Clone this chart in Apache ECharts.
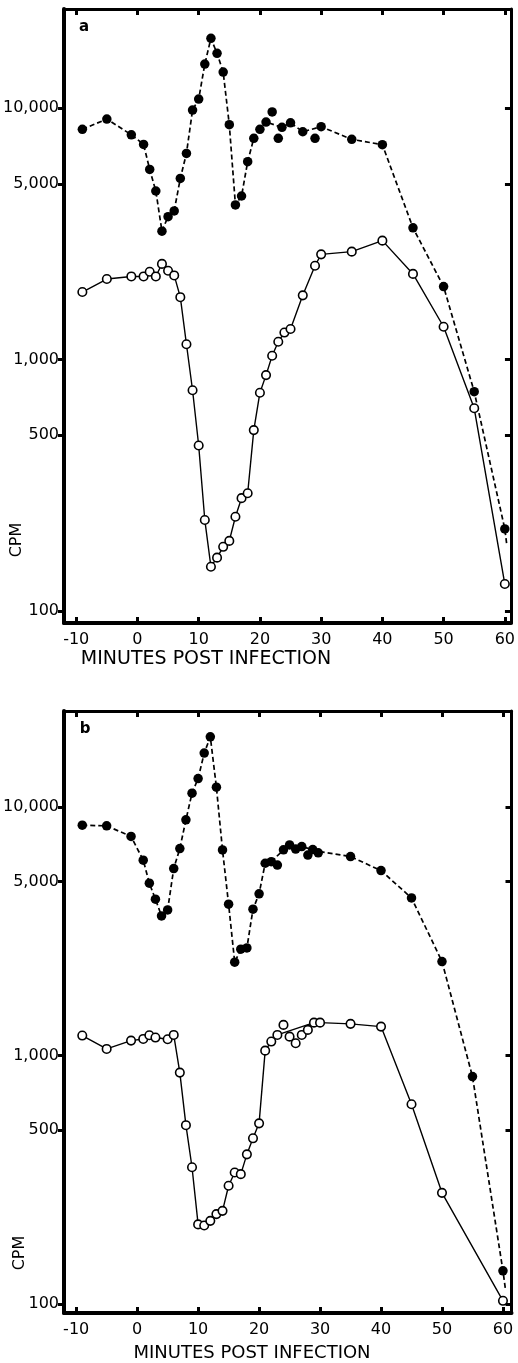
<!DOCTYPE html>
<html><head><meta charset="utf-8">
<script src="https://cdn.jsdelivr.net/npm/echarts@6/dist/echarts.min.js"></script>
<style>html,body{margin:0;padding:0;background:#fff}#c{width:518px;height:1363px}</style>
</head><body><div id="c"></div><script>
// ---------- DATA ----------
// Panel a, filled circles (dashed line)
const aFilledX = [-9,-5,-1,1,2,3,4,5,6,7,8,9,10,11,12,13,14,15,16,17,18,19,20,21,22,23,23.6,25,27,29,30,35,40,45,50,55,60];
const aFilledY = [8230,9040,7830,7170,5700,4680,3240,3700,3900,5250,6600,9820,10860,14960,18930,16500,13900,8590,4120,4470,6120,7580,8230,8800,9650,7580,8380,8740,8050,7580,8430,7510,7150,3340,1950,745,212];
const aFilledLineX = [-9,-5,-1,1,2,3,4,5,6,7,8,9,10,11,12,13,14,15,16,17,18,19,20,21,23.6,25,27,30,35,40,45,50,55,60,60.3];
const aFilledLineY = [8230,9040,7830,7170,5700,4680,3240,3700,3900,5250,6600,9820,10860,14960,18930,16500,13900,8590,4120,4470,6120,7580,8230,8800,8380,8740,8050,8430,7510,7150,3340,1950,745,212,185];
// Panel a, open circles (solid line)
const aOpenX = [-9,-5,-1,1,2,3,4,5,6,7,8,9,10,11,12,13,14,15,16,17,18,19,20,21,22,23,24,25,27,29,30,35,40,45,50,55,60];
const aOpenY = [1855,2090,2140,2140,2235,2140,2400,2255,2160,1770,1150,755,455,230,150,163,180,190,237,281,294,524,738,867,1035,1177,1280,1322,1800,2360,2620,2685,2970,2190,1350,640,128];
// Panel b, filled circles (dashed line)
const bFilledX = [-9,-5,-1,1,2,3,4,5,6,7,8,9,10,11,12,13,14,15,16,17,18,19,20,21,22,23,24,25,26,27,28,28.8,29.7,35,40,45,50,55,60];
const bFilledY = [8440,8385,7600,6100,4930,4250,3640,3850,5645,6795,8866,11350,13000,16450,19130,12000,6710,4058,2372,2675,2708,3875,4467,5930,6020,5830,6714,7030,6760,6920,6400,6730,6530,6310,5541,4300,2386,822,136];
const bFilledLineX = [-9,-5,-1,1,2,3,4,5,6,7,8,9,10,11,12,13,14,15,16,17,18,19,20,21,22,24,25,27,30,35,40,45,50,55,60,60.4];
const bFilledLineY = [8440,8385,7600,6100,4930,4250,3640,3850,5645,6795,8866,11350,13000,16450,19130,12000,6710,4058,2372,2675,2708,3875,4467,5930,6020,6714,7030,6920,6600,6310,5541,4300,2386,822,136,115];
// Panel b, open circles (solid line)
const bOpenX = [-9,-5,-1,1,2,3,5,6,7,8,9,10,11,12,13,14,15,16,17,18,19,20,21,22,23,24,25,26,27,28,29,30,35,40,45,50,60];
const bOpenY = [1202,1062,1147,1165,1205,1180,1162,1209,853,524,355,209,207,216,230,237,299,338,333,400,464,533,1045,1137,1209,1327,1190,1119,1209,1267,1355,1355,1340,1306,636,280,103];
const bOpenLineX = [-9,-5,-1,1,2,3,5,6,7,8,9,10,11,12,13,14,15,16,17,18,19,20,21,22,23,29,30,35,40,45,50,60];
const bOpenLineY = [1202,1062,1147,1165,1205,1180,1162,1209,853,524,355,209,207,216,230,237,299,338,333,400,464,533,1045,1137,1209,1355,1355,1340,1306,636,280,103];
// Axis ticks
const xTicks = [-10,0,10,20,30,40,50,60];
const yTicks = [100,500,1000,5000,10000];
const xTitle = 'MINUTES POST INFECTION';
const yTitle = 'CPM';
const panelLabels = ['a','b'];

// ---------- CHART ----------
const FONT = 'DejaVu Sans';
const L = Math.log10;
const pairs = (xs, ys) => xs.map((x, i) => [x, L(ys[i])]);
const yTickLog = yTicks.map(L);
const fmtY = v => Math.round(Math.pow(10, v)).toLocaleString('en-US');

const panels = [
  {left:63.66, top:9, width:450.5, height:614, xmin:-12, xmax:61, ymin:L(89.6), ymax:L(24770)},
  {left:63.8, top:711, width:447.7, height:602, xmin:-12, xmax:61.4, ymin:L(92), ymax:L(24300)}
];

const grids = [], xAxes = [], yAxes = [];
panels.forEach((p, g) => {
  grids.push({left:p.left, top:p.top, width:p.width, height:p.height, containLabel:false});
  const base = {type:'value', gridIndex:g, min:p.xmin, max:p.xmax, splitLine:{show:false}};
  xAxes.push(Object.assign({}, base, {position:'bottom',
    axisLine:{show:true, onZero:false, lineStyle:{color:'#000', width:4}},
    axisTick:{show:true, inside:true, length:6, customValues:xTicks, lineStyle:{color:'#000', width:3}},
    axisLabel:{show:true, customValues:xTicks, color:'#000', fontSize:16, fontFamily:FONT, margin:9}}));
  xAxes.push(Object.assign({}, base, {position:'top',
    axisLine:{show:true, onZero:false, lineStyle:{color:'#000', width:3}},
    axisTick:{show:true, inside:true, length:6, customValues:xTicks, lineStyle:{color:'#000', width:3}},
    axisLabel:{show:false}}));
  const ybase = {type:'value', gridIndex:g, min:p.ymin, max:p.ymax, splitLine:{show:false}};
  yAxes.push(Object.assign({}, ybase, {position:'left',
    axisLine:{show:true, onZero:false, lineStyle:{color:'#000', width:4}},
    axisTick:{show:true, inside:false, length:6, customValues:yTickLog, lineStyle:{color:'#000', width:3}},
    axisLabel:{show:true, customValues:yTickLog, formatter:fmtY, color:'#000', fontSize:16, fontFamily:FONT, margin:5}}));
  yAxes.push(Object.assign({}, ybase, {position:'right',
    axisLine:{show:true, onZero:false, lineStyle:{color:'#000', width:3}},
    axisTick:{show:true, inside:true, length:6, customValues:yTickLog, lineStyle:{color:'#000', width:3}},
    axisLabel:{show:false}}));
});

function lineSeries(g, xs, ys, dashed) {
  return {type:'line', xAxisIndex:2*g, yAxisIndex:2*g, data:pairs(xs, ys), symbol:'none', z:2,
    lineStyle:{color:'#000', width:dashed ? 1.7 : 1.4, type: dashed ? [5,3] : 'solid'}, silent:true};
}
function pointSeries(g, xs, ys, filled) {
  return {type:'scatter', xAxisIndex:2*g, yAxisIndex:2*g, data:pairs(xs, ys), symbol:'circle', z:3,
    symbolSize: filled ? 9.5 : 8.5,
    itemStyle: filled ? {color:'#000', opacity:1} : {color:'#fff', borderColor:'#000', borderWidth:1.6, opacity:1}, silent:true};
}

const series = [
  lineSeries(0, aFilledLineX, aFilledLineY, true),
  lineSeries(0, aOpenX, aOpenY, false),
  pointSeries(0, aFilledX, aFilledY, true),
  pointSeries(0, aOpenX, aOpenY, false),
  lineSeries(1, bFilledLineX, bFilledLineY, true),
  lineSeries(1, bOpenLineX, bOpenLineY, false),
  pointSeries(1, bFilledX, bFilledY, true),
  pointSeries(1, bOpenX, bOpenY, false)
];

const txt = (text, x, y, size, extra, bold) => Object.assign({type:'text', x, y,
  style:{text, fill:'#000', font: (bold ? 'bold ' : '') + size + 'px "' + FONT + '"', textAlign:'center', textVerticalAlign:'middle'}}, extra || {});

const graphic = [
  txt(panelLabels[0], 84, 27, 15, null, true),
  txt(panelLabels[1], 85, 729, 15, null, true),
  txt(yTitle, 17, 540, 16, {rotation:Math.PI/2}),
  txt(yTitle, 20, 1253, 16, {rotation:Math.PI/2}),
  txt(xTitle, 206, 659, 19),
  txt(xTitle, 252, 1353, 18)
];

const chart = echarts.init(document.getElementById('c'), null, {renderer:'canvas'});
chart.setOption({animation:false, backgroundColor:'#fff', grid:grids, xAxis:xAxes, yAxis:yAxes, series, graphic});
</script></body></html>
